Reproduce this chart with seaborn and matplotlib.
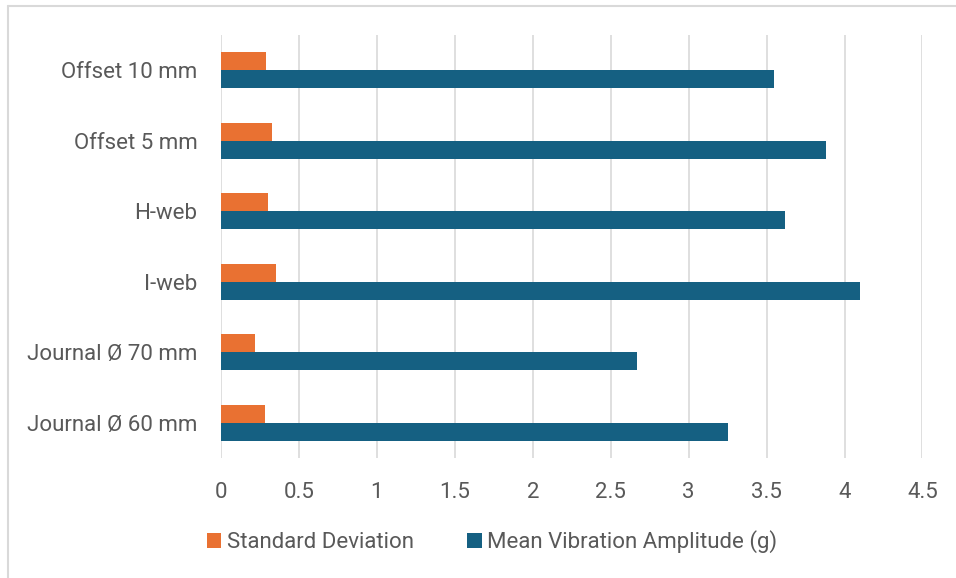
import pandas as pd
import seaborn as sns
import matplotlib.pyplot as plt
from matplotlib.patches import Patch
from matplotlib.lines import Line2D

configs = ["Offset 10 mm", "Offset 5 mm", "H-web", "I-web", "Journal Ø 70 mm", "Journal Ø 60 mm"]
std_dev = [0.29, 0.33, 0.30, 0.35, 0.22, 0.28]
mean_amp = [3.55, 3.88, 3.62, 4.10, 2.67, 3.25]
series = ["Standard Deviation", "Mean Vibration Amplitude (g)"]
colors = ["#E97132", "#156082"]
xticks = [0, 0.5, 1, 1.5, 2, 2.5, 3, 3.5, 4, 4.5]

df = pd.DataFrame({
    "config": configs * 2,
    "value": std_dev + mean_amp,
    "series": [series[0]] * len(configs) + [series[1]] * len(configs),
})

sns.set_style("white")
plt.rcParams['font.family'] = ['Roboto', 'DejaVu Sans']
txt = "#595959"
fs = 16

fig = plt.figure(figsize=(9.56, 5.78), dpi=100)
ax = fig.add_axes([221 / 956, 1 - 458 / 578, (922.5 - 221) / 956, (458 - 35) / 578])

sns.barplot(data=df, y="config", x="value", hue="series", hue_order=series,
            order=configs, palette=colors, width=0.51, gap=0, ax=ax,
            legend=False, saturation=1, edgecolor="none")

ax.set_xlim(0, 4.5)
ax.set_xticks(xticks)
ax.set_xticklabels([f"{t:g}" for t in xticks])
ax.grid(axis="x", color="#d9d9d9", linewidth=1.2)
ax.set_axisbelow(True)
for s in ax.spines.values():
    s.set_visible(False)
ax.set_xlabel("")
ax.set_ylabel("")
ax.tick_params(axis="both", length=0, labelsize=fs, colors=txt)
ax.tick_params(axis="y", pad=17)
ax.tick_params(axis="x", pad=17)

handles = [Patch(facecolor=c, edgecolor="none") for c in colors]
fig.legend(handles, series, loc="center", bbox_to_anchor=(492 / 956, 1 - 542 / 578),
           ncol=2, frameon=False, fontsize=fs, labelcolor=txt,
           handlelength=0.65, handleheight=0.65, handletextpad=0.25, columnspacing=2.4)

# chart border
fig.add_artist(Line2D([8 / 956, 1], [1 - 6 / 578] * 2, color="#d9d9d9", linewidth=1.5))
fig.add_artist(Line2D([8 / 956] * 2, [0, 1 - 6 / 578], color="#d9d9d9", linewidth=1.5))

fig.savefig("out.png", dpi=100)
